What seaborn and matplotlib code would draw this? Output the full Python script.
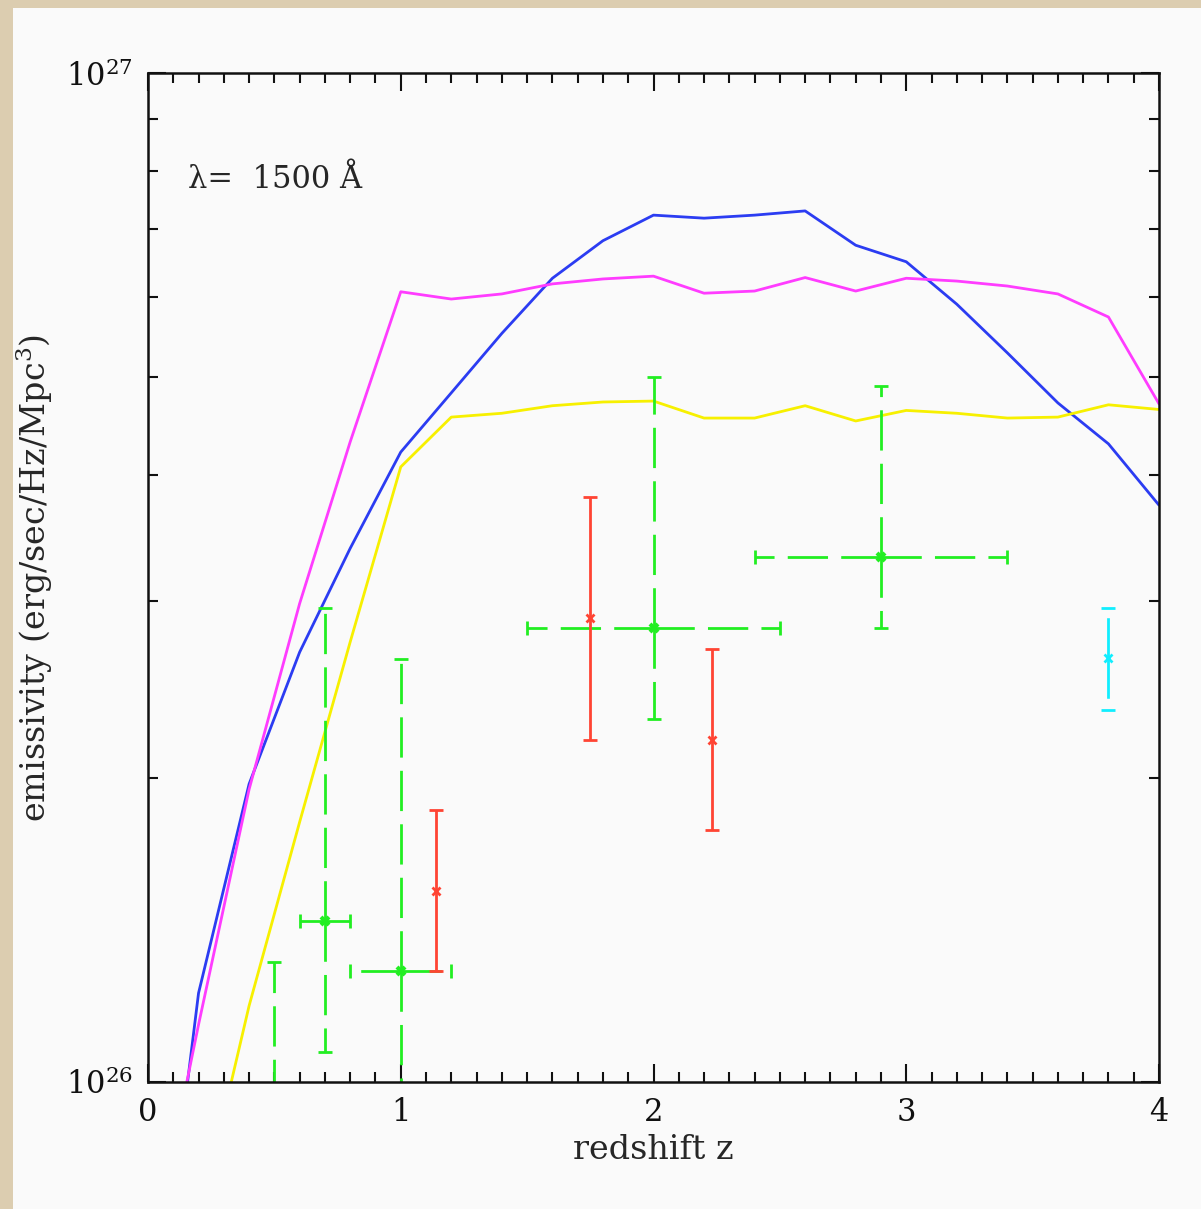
import matplotlib
matplotlib.use('Agg')
import matplotlib.pyplot as plt
from matplotlib.patches import Rectangle
from matplotlib.ticker import MultipleLocator, LogLocator, NullFormatter, FixedLocator
import numpy as np
import seaborn as sns

# model curves (emissivity in units of 1e26 erg/sec/Hz/Mpc^3)
z_blue = [0.15, 0.2, 0.4, 0.6, 0.8, 1.0, 1.2, 1.4, 1.6, 1.8, 2.0,
          2.2, 2.4, 2.6, 2.8, 3.0, 3.2, 3.4, 3.6, 3.8, 4.0]
e_blue = [0.97, 1.225, 1.974, 2.667, 3.38, 4.21, 4.82, 5.52, 6.26, 6.82, 7.23,
          7.18, 7.23, 7.30, 6.75, 6.50, 5.90, 5.28, 4.71, 4.29, 3.73]

z_magenta = [0.15, 0.2, 0.4, 0.6, 0.8, 1.0, 1.2, 1.4, 1.6, 1.8, 2.0,
             2.2, 2.4, 2.6, 2.8, 3.0, 3.2, 3.4, 3.6, 3.8, 4.0]
e_magenta = [0.99, 1.14, 1.95, 2.98, 4.31, 6.07, 5.97, 6.04, 6.18, 6.25, 6.29,
             6.05, 6.08, 6.27, 6.08, 6.26, 6.22, 6.15, 6.04, 5.73, 4.70]

z_yellow = [0.3, 0.4, 0.6, 0.8, 1.0, 1.2, 1.4, 1.6, 1.8, 2.0,
            2.2, 2.4, 2.6, 2.8, 3.0, 3.2, 3.4, 3.6, 3.8, 4.0]
e_yellow = [0.93, 1.19, 1.81, 2.73, 4.07, 4.56, 4.60, 4.68, 4.72, 4.73,
            4.55, 4.55, 4.68, 4.52, 4.63, 4.60, 4.55, 4.56, 4.69, 4.64]

# observations: green (dashed bars, with z ranges)
g_z = [0.5, 0.7, 1.0, 2.0, 2.9]
g_e = [0.85, 1.444, 1.288, 2.818, 3.314]
g_lo = [0.6, 1.071, 0.6, 2.29, 2.818]
g_hi = [1.315, 2.95, 2.626, 4.996, 4.90]
g_zlo = [0.4, 0.6, 0.8, 1.5, 2.4]
g_zhi = [0.6, 0.8, 1.2, 2.5, 3.4]

# red (solid bars)
r_z = [1.14, 1.75, 2.23]
r_e = [1.546, 2.884, 2.18]
r_lo = [1.288, 2.18, 1.777]
r_hi = [1.86, 3.80, 2.687]

# cyan (dashed bar)
c_z = [3.8]
c_e = [2.632]
c_lo = [2.337]
c_hi = [2.95]

SCALE = 1e26

sns.set_style('ticks')
plt.rcParams['font.family'] = ['DejaVu Serif']
plt.rcParams['mathtext.fontset'] = 'dejavuserif'
plt.rcParams['lines.scale_dashes'] = False

fig = plt.figure(figsize=(12.01, 12.09), dpi=100, facecolor='#dccdb0')
fig.patches.append(Rectangle((13 / 1201, 0), 1, 1 - 8 / 1209, transform=fig.transFigure,
                             facecolor='#fafafa', edgecolor='none', zorder=-1))
ax = fig.add_axes([148 / 1201, 1 - 1082 / 1209, 1011 / 1201, 1009 / 1209])
ax.set_facecolor('#fafafa')

lw = 2.0
sns.lineplot(x=z_blue, y=np.array(e_blue) * SCALE, color='#2b3cf2', lw=lw, ax=ax)
sns.lineplot(x=z_magenta, y=np.array(e_magenta) * SCALE, color='#ff3cff', lw=lw, ax=ax)
sns.lineplot(x=z_yellow, y=np.array(e_yellow) * SCALE, color='#f7f000', lw=lw, ax=ax)

dash = (0, (29, 9.5))
green = '#22ee22'
ge = np.array(g_e) * SCALE
# dashed bars drawn from the point outward
ax.vlines(g_z, ge, np.array(g_hi) * SCALE, colors=green, lw=lw, linestyles=[dash])
ax.vlines(g_z, ge, np.array(g_lo) * SCALE, colors=green, lw=lw, linestyles=[dash])
ax.hlines(ge, g_z, g_zhi, colors=green, lw=lw, linestyles=[dash])
ax.hlines(ge, g_z, g_zlo, colors=green, lw=lw, linestyles=[dash])
ax.plot(g_z, np.array(g_hi) * SCALE, ls='none', marker='_', ms=10, mew=2, color=green)
ax.plot(g_z, np.array(g_lo) * SCALE, ls='none', marker='_', ms=10, mew=2, color=green)
ax.plot(g_zhi, ge, ls='none', marker='|', ms=10, mew=2, color=green)
ax.plot(g_zlo, ge, ls='none', marker='|', ms=10, mew=2, color=green)
ax.plot(g_z, ge, ls='none', marker='x', ms=6, mew=3, color=green)

red = '#ff4433'
ax.vlines(r_z, np.array(r_lo) * SCALE, np.array(r_hi) * SCALE, colors=red, lw=lw)
ax.plot(r_z, np.array(r_hi) * SCALE, ls='none', marker='_', ms=10, mew=2, color=red)
ax.plot(r_z, np.array(r_lo) * SCALE, ls='none', marker='_', ms=10, mew=2, color=red)
ax.plot(r_z, np.array(r_e) * SCALE, ls='none', marker='x', ms=6, mew=2, color=red)

cyan = '#11eeff'
ce = np.array(c_e) * SCALE
ax.vlines(c_z, ce, np.array(c_hi) * SCALE, colors=cyan, lw=lw, linestyles=[dash])
ax.vlines(c_z, ce, np.array(c_lo) * SCALE, colors=cyan, lw=lw, linestyles=[dash])
ax.plot(c_z, np.array(c_hi) * SCALE, ls='none', marker='_', ms=10, mew=2, color=cyan)
ax.plot(c_z, np.array(c_lo) * SCALE, ls='none', marker='_', ms=10, mew=2, color=cyan)
ax.plot(c_z, ce, ls='none', marker='x', ms=6, mew=2, color=cyan)

ax.set_yscale('log')
ax.set_xlim(0, 4)
ax.set_ylim(1e26, 1e27)

ax.xaxis.set_major_locator(MultipleLocator(1))
ax.xaxis.set_minor_locator(MultipleLocator(0.1))
ax.yaxis.set_major_locator(FixedLocator([1e26, 1e27]))
ax.yaxis.set_minor_locator(LogLocator(base=10, subs=np.arange(2, 10)))
ax.yaxis.set_minor_formatter(NullFormatter())
ax.set_yticklabels([r'$10^{26}$', r'$10^{27}$'])

ax.tick_params(which='both', direction='in', top=True, right=True, width=1.5,
               colors='#111111', labelsize=22, pad=11)
ax.tick_params(which='major', length=13)
ax.tick_params(which='minor', length=7)
for s in ax.spines.values():
    s.set_linewidth(1.8)
    s.set_color('#111111')

ax.set_xlabel('redshift z', fontsize=24, labelpad=4)
ax.set_ylabel(r'emissivity (erg/sec/Hz/Mpc$^3$)', fontsize=24, labelpad=8)
ax.text(0.04, 0.894, 'λ=  1500 Å', transform=ax.transAxes, fontsize=22, va='center')

fig.savefig('out.png', dpi=100, facecolor=fig.get_facecolor())
